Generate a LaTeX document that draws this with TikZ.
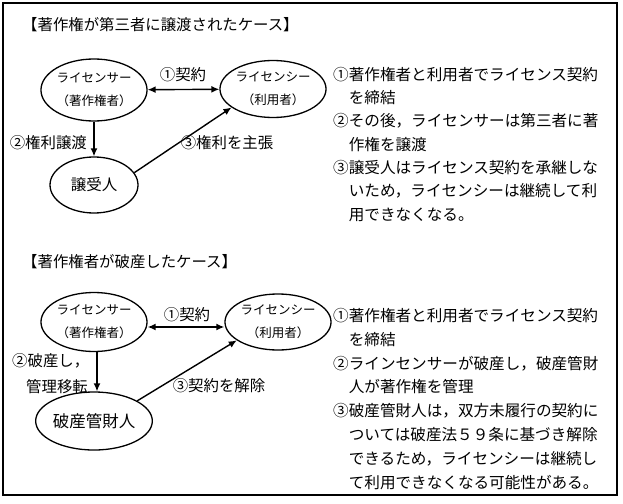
\documentclass[tikz,border=0pt]{standalone}
\usepackage{fontspec}
\setmainfont{Noto Sans CJK JP}
\usetikzlibrary{shapes.geometric,arrows.meta}

\begin{document}
\begin{tikzpicture}[x=1pt,y=-1pt,
		party/.style={draw, ellipse, line width=1.3pt, inner sep=0pt, align=center, font=\fontsize{12.5}{23}\selectfont},
		lbl/.style={inner sep=0pt, font=\fontsize{15.4}{18}\selectfont},
		memo/.style={inner sep=0pt, anchor=base west, align=left},
		arr/.style={line width=1.4pt, -{Latex[length=8pt,width=7pt]}}]
				\useasboundingbox (0,0) rectangle (623,503);
				\draw[line width=1.1pt] (3,3) rectangle (617,495);
				
				% case 1
				\node[lbl, anchor=west] (title1) at (22,25) {【著作権が第三者に譲渡されたケース】};
				\node[party, minimum width=94pt, minimum height=62pt] (licensor1) at (94,90) {ライセンサー\\（著作権者）};
				\node[party, minimum width=89pt, minimum height=57pt] (licensee1) at (273,89) {ライセンシー\\（利用者）};
				\node[party, minimum width=88pt, minimum height=56pt, font=\fontsize{15.5}{18}\selectfont] (assignee1) at (94,185) {譲受人};
				\draw[arr, {Latex[length=8pt,width=7pt]}-{Latex[length=8pt,width=7pt]}] (licensor1) -- (licensee1);
				\draw[arr] (licensor1) -- (assignee1);
				\draw[arr] (assignee1.17) -- (licensee1.204);
				\node[lbl] (contract1) at (183,75) {①契約};
				\node[lbl, anchor=east] (transfer1) at (87,143) {②権利譲渡};
				\node[lbl] (claim1) at (227,143) {③権利を主張};
				\node[memo, font=\fontsize{15.6}{23.3}\selectfont] (memo1) at (333,220) {①著作権者と利用者でライセンス契約\\
					\hspace*{1em}を締結\\
					②その後，ライセンサーは第三者に著\\
					\hspace*{1em}作権を譲渡\\
					③譲受人はライセンス契約を承継しな\\
					\hspace*{1em}いため，ライセンシーは継続して利\\
					\hspace*{1em}用できなくなる。};
				
				% case 2
				\node[lbl, anchor=west] (title2) at (22,262) {【著作権者が破産したケース】};
				\node[party, minimum width=93pt, minimum height=59pt] (licensor2) at (94,322) {ライセンサー\\（著作権者）};
				\node[party, minimum width=88pt, minimum height=56pt] (licensee2) at (278,322) {ライセンシー\\（利用者）};
				\node[party, minimum width=92pt, minimum height=58pt, font=\fontsize{16.5}{18}\selectfont] (trustee2) at (94,421) {破産管財人};
				\draw[arr, {Latex[length=8pt,width=7pt]}-{Latex[length=8pt,width=7pt]}] ([yshift=-5pt]licensor2.east) -- ([yshift=-5pt]licensee2.west);
				\draw[arr] ([xshift=3pt]licensor2.south) -- ([xshift=3pt]trustee2.north);
				\draw[arr] (trustee2.25) -- (licensee2.204);
				\node[lbl] (contract2) at (187,315) {①契約};
				\node[lbl, anchor=west] (bankrupt2) at (12,361) {②破産し，};
				\node[lbl, anchor=east] (manage2) at (88,387) {管理移転};
				\node[lbl] (cancel2) at (219,386) {③契約を解除};
				\node[memo, font=\fontsize{15.6}{23.8}\selectfont] (memo2) at (333,488) {①著作権者と利用者でライセンス契約\\
					\hspace*{1em}を締結\\
					②ラインセンサーが破産し，破産管財\\
					\hspace*{1em}人が著作権を管理\\
					③破産管財人は，双方未履行の契約に\\
					\hspace*{1em}ついては破産法５９条に基づき解除\\
					\hspace*{1em}できるため，ライセンシーは継続し\\
					\hspace*{1em}て利用できなくなる可能性がある。};
			\end{tikzpicture}
\end{document}
